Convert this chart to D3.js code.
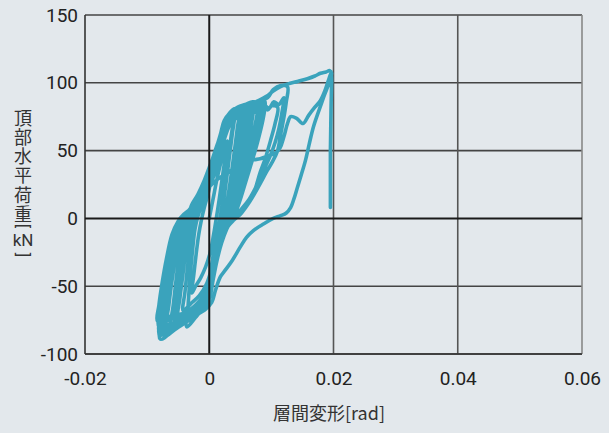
<!DOCTYPE html>
<html>
<head>
<meta charset="utf-8">
<title>hysteresis</title>
<script src="https://d3js.org/d3.v7.min.js"></script>
<style>
body { margin: 0; background: #e3e8ec; }
svg { display: block; }
.tick text { font-family: Roboto, "Liberation Sans", sans-serif; font-size: 19px; fill: #222; }
.jp { font-family: "Noto Sans CJK JP", sans-serif; fill: #333; }
.unit { font-family: Roboto, "Liberation Sans", sans-serif; fill: #333; }
</style>
</head>
<body>
<script>
// tick values
var xTicks = [-0.02, 0, 0.02, 0.04, 0.06];
var yTicks = [-100, -50, 0, 50, 100, 150];

// load history, one array per cycle: [drift rad, load kN]
var cycle01 = [[0,0],[0.0006,14],[0.0012,28],[0.0018,40],[0.0024,50],[0.0029,57],
  [0.0026,46],[0.0021,30],[0.0016,14],[0.0012,2],[0.0007,-12],[0.0001,-26],[-0.0006,-36],[-0.0014,-44],[-0.0022,-50],[-0.0028,-55],
  [-0.0025,-42],[-0.0021,-26],[-0.0017,-12],[-0.0013,-2],[-0.0008,8],[-0.0002,18]];
var cycle02 = [[0.0004,30],[0.0011,44],[0.0018,56],[0.0026,66],[0.0033,71],[0.0038,73],
  [0.0035,60],[0.0030,44],[0.0025,26],[0.0020,8],[0.0016,-4],[0.0010,-20],[0.0004,-36],[-0.0004,-48],[-0.0016,-57],[-0.0030,-63],[-0.0042,-68],
  [-0.0039,-54],[-0.0035,-36],[-0.0031,-18],[-0.0027,-4],[-0.0021,6],[-0.0012,16]];
var cycle03 = [[-0.0004,28],[0.0004,40],[0.0012,52],[0.0020,63],[0.0028,71],[0.0038,76],[0.0048,79],
  [0.0045,66],[0.0040,48],[0.0034,28],[0.0028,10],[0.0024,0],[0.0017,-14],[0.0010,-30],[0.0003,-44],[-0.0006,-55],[-0.0020,-63],[-0.0038,-70],[-0.0055,-76],
  [-0.0051,-58],[-0.0046,-38],[-0.0041,-18],[-0.0037,-4],[-0.0030,4],[-0.0020,12]];
var cycle04 = [[-0.0006,26],[0.0002,38],[0.0010,50],[0.0018,61],[0.0026,70],[0.0034,74],[0.0040,76],
  [0.0037,62],[0.0032,44],[0.0027,26],[0.0022,10],[0.0018,1],[0.0012,-12],[0.0006,-28],[0.0001,-42],[-0.0004,-54],[-0.0016,-62],[-0.0034,-69],[-0.0050,-74],
  [-0.0047,-58],[-0.0042,-40],[-0.0037,-20],[-0.0033,-5],[-0.0026,4],[-0.0016,14]];
var cycle05 = [[-0.0010,22],[-0.0002,33],[0.0006,45],[0.0014,56],[0.0023,68],[0.0032,75],[0.0045,80],[0.0050,76],[0.0055,82],[0.0063,84],
  [0.0060,72],[0.0055,58],[0.0048,42],[0.0041,24],[0.0035,9],[0.0030,0],[0.0023,-12],[0.0015,-26],[0.0007,-40],[0.0001,-52],[-0.0008,-60],[-0.0025,-67],[-0.0045,-74],[-0.0062,-82],
  [-0.0058,-64],[-0.0053,-44],[-0.0047,-22],[-0.0042,-5],[-0.0035,3],[-0.0024,11]];
var cycle06 = [[-0.0010,20],[-0.0002,30],[0.0006,42],[0.0014,54],[0.0022,66],[0.0030,74],[0.0036,71],[0.0040,77],[0.0050,78],
  [0.0047,64],[0.0042,48],[0.0036,32],[0.0030,16],[0.0025,5],[0.0020,-3],[0.0013,-16],[0.0007,-30],[0.0002,-44],[-0.0002,-56],[-0.0010,-64],[-0.0026,-71],[-0.0046,-78],[-0.0060,-81],[-0.0072,-84],
  [-0.0069,-68],[-0.0064,-50],[-0.0058,-30],[-0.0051,-12],[-0.0044,-2],[-0.0036,4],[-0.0026,10]];
var cycle07 = [[-0.0008,20],[0.0000,32],[0.0008,44],[0.0016,56],[0.0024,67],[0.0032,74],[0.0042,78],[0.0048,74],[0.0055,80],
  [0.0052,68],[0.0046,52],[0.0040,36],[0.0034,20],[0.0028,7],[0.0023,-1],[0.0016,-14],[0.0009,-30],[0.0003,-46],[-0.0002,-58],[-0.0010,-66],[-0.0022,-73],[-0.0036,-80],
  [-0.0034,-64],[-0.0031,-44],[-0.0027,-24],[-0.0023,-8],[-0.0018,2],[-0.0010,12]];
var cycle08 = [[-0.0002,24],[0.0006,36],[0.0012,45],[0.0022,60],[0.0030,70],[0.0038,76],[0.0046,78],[0.0052,82],[0.0058,80],
  [0.0055,68],[0.0050,54],[0.0044,40],[0.0038,26],[0.0032,12],[0.0026,3],[0.0020,-6],[0.0013,-20],[0.0006,-34],[0.0001,-46],[-0.0002,-57],[-0.0012,-65],[-0.0030,-72],[-0.0050,-77],[-0.0068,-80],
  [-0.0065,-64],[-0.0060,-46],[-0.0054,-28],[-0.0048,-12],[-0.0042,-2],[-0.0034,4],[-0.0024,10]];
var cycle09 = [[-0.0010,18],[-0.0002,28],[0.0006,40],[0.0014,52],[0.0022,64],[0.0030,72],[0.0040,77],[0.0046,73],[0.0050,80],[0.0055,75],[0.0060,82],[0.0064,77],[0.0068,82],
  [0.0065,70],[0.0059,56],[0.0052,42],[0.0045,28],[0.0039,14],[0.0033,4],[0.0027,-4],[0.0019,-15],[0.0011,-30],[0.0004,-44],[0.0000,-56],[-0.0004,-64],[-0.0018,-70],[-0.0038,-76],[-0.0058,-81],[-0.0076,-86],
  [-0.0073,-70],[-0.0067,-52],[-0.0060,-34],[-0.0052,-16],[-0.0044,-4],[-0.0037,2],[-0.0027,8]];
var cycle10 = [[-0.0014,20],[-0.0005,30],[0.0004,42],[0.0012,52],[0.0020,64],[0.0028,74],[0.0040,80],[0.0046,76],[0.0052,83],[0.0058,78],[0.0066,85],[0.0072,80],[0.0080,87],
  [0.0076,74],[0.0070,62],[0.0061,48],[0.0052,32],[0.0043,16],[0.0036,4],[0.0030,-4],[0.0021,-16],[0.0013,-30],[0.0006,-44],[0.0001,-56],[-0.0004,-63],[-0.0016,-69],[-0.0032,-75],[-0.0052,-81],[-0.0079,-89],
  [-0.0076,-74],[-0.0070,-58],[-0.0062,-38],[-0.0053,-20],[-0.0045,-6],[-0.0039,0],[-0.0030,4],[-0.0020,10]];
var cycle11 = [[-0.0012,14],[-0.0002,22],[0.0008,32],[0.0016,44],[0.0024,58],[0.0032,68],[0.0042,76],[0.0050,80],[0.0056,78],[0.0062,83],[0.0068,81],[0.0072,84],
  [0.0068,70],[0.0062,56],[0.0055,42],[0.0048,28],[0.0042,16],[0.0036,6],[0.0030,-1],[0.0024,-8],[0.0016,-20],[0.0009,-34],[0.0003,-48],[-0.0001,-60],[-0.0014,-68],[-0.0034,-74],[-0.0058,-77],[-0.0080,-78],
  [-0.0078,-66],[-0.0073,-50],[-0.0066,-32],[-0.0058,-16],[-0.0050,-4],[-0.0042,2],[-0.0032,6],[-0.0022,12]];
var cycle12 = [[-0.0010,16],[-0.0003,24],[0.0004,38],[0.0013,49],[0.0022,66],[0.0030,76],[0.0042,81],[0.0048,76],[0.0055,82],[0.0062,77],[0.0070,83],[0.0076,79],[0.0082,85],
  [0.0079,74],[0.0072,64],[0.0066,60],[0.0056,44],[0.0047,30],[0.0038,14],[0.0031,5],[0.0024,-2],[0.0017,-12],[0.0010,-26],[0.0004,-40],[0.0000,-52],[-0.0006,-62],[-0.0020,-67],[-0.0040,-70],[-0.0060,-72],[-0.0082,-73],
  [-0.0080,-62],[-0.0074,-48],[-0.0066,-32],[-0.0056,-14],[-0.0046,-2],[-0.0038,3],[-0.0028,8]];
var cycle13 = [[-0.0014,14],[-0.0004,22],[0.0006,34],[0.0014,46],[0.0022,60],[0.0030,70],[0.0040,76],[0.0048,80],[0.0056,79],[0.0064,84],[0.0070,80],[0.0076,85],[0.0084,84],[0.0090,86],
  [0.0087,74],[0.0081,62],[0.0074,50],[0.0066,38],[0.0058,26],[0.0050,14],[0.0043,5],[0.0036,-1],[0.0028,-8],[0.0020,-18],[0.0012,-32],[0.0006,-46],[0.0001,-58],[-0.0008,-66],[-0.0026,-72],[-0.0050,-77],[-0.0081,-80],
  [-0.0079,-68],[-0.0074,-52],[-0.0067,-34],[-0.0059,-16],[-0.0050,-4],[-0.0042,1],[-0.0032,5],[-0.0022,10]];
var cycle14 = [[-0.0016,14],[-0.0006,22],[0.0002,33],[0.0010,46],[0.0018,60],[0.0026,72],[0.0036,79],[0.0042,74],[0.0050,81],[0.0058,77],[0.0066,83],[0.0072,78],[0.0080,84],[0.0088,84],
  [0.0085,72],[0.0078,60],[0.0068,46],[0.0058,30],[0.0050,18],[0.0043,8],[0.0036,1],[0.0028,-6],[0.0020,-16],[0.0012,-30],[0.0005,-46],[0.0000,-58],[-0.0010,-66],[-0.0028,-73],[-0.0050,-79],[-0.0066,-82],[-0.0080,-84],
  [-0.0077,-70],[-0.0071,-54],[-0.0063,-36],[-0.0054,-18],[-0.0046,-4],[-0.0040,1],[-0.0031,5],[-0.0020,10]];
var cycle15 = [[-0.0030,8],[-0.0018,18],[-0.0008,28],[0.0002,40],[0.0010,50],[0.0018,62],[0.0024,72],[0.0034,78],[0.0046,82],[0.0058,84],[0.0070,86],[0.0078,84],[0.0085,88],
  [0.0082,76],[0.0076,64],[0.0068,52],[0.0060,40],[0.0052,26],[0.0045,14],[0.0038,5],[0.0032,-2],[0.0025,-9],[0.0017,-20],[0.0009,-36],[0.0003,-50],[-0.0002,-62],[-0.0014,-68],[-0.0034,-72],[-0.0058,-74],[-0.0083,-76],
  [-0.0081,-64],[-0.0076,-48],[-0.0069,-30],[-0.0060,-12],[-0.0050,-2],[-0.0041,3],[-0.0030,7]];
var cycle16 = [[-0.0012,13],[-0.0004,20],[0.0004,30],[0.0012,44],[0.0020,58],[0.0028,70],[0.0040,78],[0.0048,73],[0.0055,81],[0.0062,76],[0.0070,83],[0.0078,79],[0.0086,84],[0.0094,80],[0.0100,83],[0.0110,82],
  [0.0106,70],[0.0099,58],[0.0090,44],[0.0082,34],[0.0074,22],[0.0064,12],[0.0052,4],[0.0040,-1],[0.0030,-6],[0.0022,-14],[0.0014,-26],[0.0007,-42],[0.0002,-54],[-0.0006,-63],[-0.0022,-70],[-0.0042,-77],[-0.0060,-82],[-0.0078,-86],
  [-0.0074,-68],[-0.0068,-50],[-0.0060,-32],[-0.0052,-14],[-0.0044,-3],[-0.0036,2],[-0.0026,7]];
var cycle17 = [[-0.0014,12],[-0.0006,20],[0.0002,28],[0.0010,40],[0.0018,54],[0.0026,66],[0.0036,75],[0.0050,80],[0.0066,83],[0.0080,86],[0.0094,89],[0.0103,95],[0.0115,98],[0.0126,97],
  [0.0124,86],[0.0120,74],[0.0115,62],[0.0110,50],[0.0102,42],[0.0093,35],[0.0080,24],[0.0066,13],[0.0055,6],[0.0045,2],[0.0036,-1],[0.0029,-3],[0.0023,-8],[0.0018,-14],[0.0012,-24],[0.0007,-33],[0.0002,-46],[-0.0004,-58],[-0.0018,-66],[-0.0040,-74],[-0.0060,-80],[-0.0080,-84],
  [-0.0077,-68],[-0.0071,-52],[-0.0063,-34],[-0.0055,-16],[-0.0047,-4],[-0.0040,0],[-0.0032,4],[-0.0022,10]];
var cycle18 = [[-0.0012,14],[-0.0004,22],[0.0004,32],[0.0012,45],[0.0020,58],[0.0028,68],[0.0040,76],[0.0048,80],[0.0056,80],[0.0064,76],[0.0072,82],[0.0080,78],[0.0088,84],[0.0096,81],[0.0104,86],[0.0112,84],[0.0120,89],
  [0.0117,78],[0.0112,66],[0.0106,56],[0.0098,46],[0.0088,36],[0.0076,24],[0.0064,14],[0.0052,7],[0.0042,2],[0.0033,-2],[0.0026,-6],[0.0019,-14],[0.0012,-26],[0.0006,-40],[0.0001,-52],[-0.0008,-62],[-0.0026,-70],[-0.0050,-76],[-0.0079,-80],
  [-0.0076,-66],[-0.0070,-50],[-0.0062,-32],[-0.0054,-16],[-0.0045,-4],[-0.0038,1],[-0.0030,4],[-0.0020,9]];
var cycle19 = [[-0.0012,16],[-0.0004,26],[0.0004,38],[0.0012,50],[0.0020,62],[0.0030,72],[0.0044,79],[0.0060,83],[0.0080,87],[0.0092,90],[0.0103,94],[0.0114,97],[0.0126,99],[0.0142,101],[0.0158,103],[0.0170,105],[0.0179,107],[0.0188,108],[0.0194,109],[0.0197,107],
  [0.0183,88],[0.0168,68],[0.0161,55],[0.0155,43],[0.0148,32],[0.0142,23],[0.0136,14],[0.0131,8],[0.0124,4],[0.0115,2],[0.0103,0],[0.0088,-4],[0.0071,-9],[0.0060,-14],[0.0050,-21],[0.0037,-31],[0.0026,-38],[0.0018,-43],[0.0010,-53],[0.0004,-62],[-0.0006,-67],[-0.0024,-72],[-0.0046,-78],[-0.0064,-82],[-0.0080,-86],
  [-0.0077,-70],[-0.0071,-54],[-0.0064,-36],[-0.0056,-18],[-0.0048,-5],[-0.0040,0],[-0.0030,4],[-0.0018,12]];
var cycle20 = [[-0.0006,20],[0.0006,26],[0.0020,31],[0.0034,35],[0.0048,39],[0.0060,41],[0.0070,43],[0.0082,44],[0.0094,46],[0.0106,48],[0.0114,52],[0.0120,60],[0.0126,70],[0.0131,75],[0.0140,74],[0.0151,70],[0.0160,76],[0.0170,82],[0.0179,87],[0.0186,94],[0.0192,102],[0.0196,107],
  [0.0196,80],[0.0195,50],[0.0195,25],[0.0195,8]];

var cycles = [cycle01, cycle02, cycle03, cycle04, cycle05, cycle06, cycle07, cycle08, cycle09, cycle10,
  cycle11, cycle12, cycle13, cycle14, cycle15, cycle16, cycle17, cycle18, cycle19, cycle20];
var loadPath = [].concat.apply([], cycles);

var w = 609, h = 433;
var mLeft = 85, mRight = 582, mTop = 15, mBottom = 354;

var x = d3.scaleLinear().domain([-0.02, 0.06]).range([mLeft, mRight]);
var y = d3.scaleLinear().domain([-100, 150]).range([mBottom, mTop]);

var svg = d3.select("body").append("svg")
  .attr("width", w)
  .attr("height", h);

// grid
svg.append("g").selectAll("line")
  .data(yTicks.filter(function(d){ return d !== 0; }))
  .enter().append("line")
  .attr("x1", mLeft).attr("x2", mRight)
  .attr("y1", function(d){ return y(d); }).attr("y2", function(d){ return y(d); })
  .attr("stroke", "#444").attr("stroke-width", 1.6);

svg.append("g").selectAll("line")
  .data(xTicks.filter(function(d){ return d !== 0; }))
  .enter().append("line")
  .attr("y1", mTop).attr("y2", mBottom)
  .attr("x1", function(d){ return x(d); }).attr("x2", function(d){ return x(d); })
  .attr("stroke", function(d){ return d === 0.06 ? "#888" : (d === -0.02 ? "#333" : "#555"); })
  .attr("stroke-width", 1.6);

// curve
var line = d3.line()
  .x(function(d){ return x(d[0]); })
  .y(function(d){ return y(d[1]); })
  .curve(d3.curveCatmullRom.alpha(0.5));

svg.append("path")
  .datum(loadPath)
  .attr("d", line)
  .attr("fill", "none")
  .attr("stroke", "#3aa3bc")
  .attr("stroke-width", 3.6)
  .attr("stroke-linejoin", "round")
  .attr("stroke-linecap", "round");

// zero lines on top
svg.append("line")
  .attr("x1", mLeft).attr("x2", mRight).attr("y1", y(0)).attr("y2", y(0))
  .attr("stroke", "#1a1a1a").attr("stroke-width", 2);
svg.append("line")
  .attr("x1", x(0)).attr("x2", x(0)).attr("y1", mTop).attr("y2", mBottom)
  .attr("stroke", "#1a1a1a").attr("stroke-width", 2);
svg.append("line")
  .attr("x1", mLeft).attr("x2", mRight).attr("y1", mBottom).attr("y2", mBottom)
  .attr("stroke", "#333").attr("stroke-width", 1.6);

// axes labels
var yAxis = d3.axisLeft(y).tickValues(yTicks).tickSize(0).tickPadding(7)
  .tickFormat(function(d){ return String(d); });
svg.append("g")
  .attr("transform", "translate(" + mLeft + ",0)")
  .call(yAxis)
  .call(function(g){ g.select(".domain").remove(); });

var xAxis = d3.axisBottom(x).tickValues(xTicks).tickSize(0).tickPadding(18)
  .tickFormat(function(d){ return d === 0 ? "0" : d.toFixed(2); });
svg.append("g")
  .attr("transform", "translate(0," + mBottom + ")")
  .call(xAxis)
  .call(function(g){ g.select(".domain").remove(); });

// titles
svg.append("text")
  .attr("class", "jp")
  .attr("x", 329).attr("y", 420)
  .attr("text-anchor", "middle")
  .style("font-size", "18px")
  .text("層間変形[rad]");

svg.append("text")
  .attr("class", "jp")
  .attr("x", 23).attr("y", 109)
  .style("writing-mode", "vertical-rl")
  .style("letter-spacing", "1.2px")
  .style("font-size", "18px")
  .text("頂部水平荷重");

// unit with brackets turned for vertical writing
svg.append("text").attr("class", "unit")
  .attr("transform", "translate(23,226) rotate(90)")
  .attr("text-anchor", "middle")
  .attr("dominant-baseline", "central")
  .style("font-size", "17px").text("[");
svg.append("text").attr("class", "unit")
  .attr("x", 23).attr("y", 246)
  .attr("text-anchor", "middle")
  .style("font-size", "17px").text("kN");
svg.append("text").attr("class", "unit")
  .attr("transform", "translate(23,255) rotate(90)")
  .attr("text-anchor", "middle")
  .attr("dominant-baseline", "central")
  .style("font-size", "17px").text("]");
</script>
</body>
</html>
